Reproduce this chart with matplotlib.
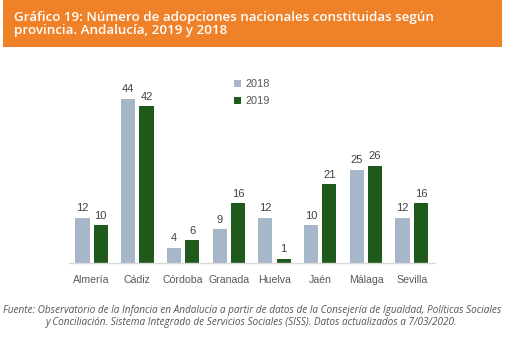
import matplotlib
matplotlib.use("Agg")
import matplotlib.pyplot as plt
from matplotlib.patches import Rectangle
import numpy as np

categories = ["Almería", "Cádiz", "Córdoba", "Granada", "Huelva", "Jaén", "Málaga", "Sevilla"]
values_2018 = [12, 44, 4, 9, 12, 10, 25, 12]
values_2019 = [10, 42, 6, 16, 1, 21, 26, 16]
series_names = ["2018", "2019"]

title = "Gráfico 19: Número de adopciones nacionales constituidas según\nprovincia. Andalucía, 2019 y 2018"
source = ("Fuente: Observatorio de la Infancia en Andalucía a partir de datos de la Consejería de Igualdad, Políticas Sociales\n"
          "y Conciliación. Sistema Integrado de Servicios Sociales (SISS). Datos actualizados a 7/03/2020.")

c18 = "#A7B7CA"
c19 = "#1F5A1C"
W, H = 505, 353
fam = ["Liberation Sans", "DejaVu Sans"]

fig = plt.figure(figsize=(W / 100, H / 100), dpi=100)
fig.patch.set_facecolor("white")

# Orange banner
fig.patches.append(Rectangle((3 / W, 1 - 47 / H), 499 / W, 47 / H, transform=fig.transFigure,
                             facecolor="#EF8129", edgecolor="none", zorder=0))
fig.text(14 / W, 1 - 24 / H, title, color="white", fontsize=9.6, fontweight="semibold",
         family=["Open Sans", "DejaVu Sans"], va="center", ha="left", linespacing=1.05)

# Axes
left, right = 68.7, 434.6
base, top = 262.5, 262.5 - 50 * 3.72
ax = fig.add_axes([left / W, 1 - base / H, (right - left) / W, (base - top) / H])
x = np.arange(len(categories))
bw = 0.31
off = 0.2
b1 = ax.bar(x - off, values_2018, bw, color=c18, label=series_names[0], zorder=2)
b2 = ax.bar(x + off, values_2019, bw, color=c19, label=series_names[1], zorder=2)
for bars, vals in ((b1, values_2018), (b2, values_2019)):
    for r, v in zip(bars, vals):
        ax.text(r.get_x() + r.get_width() / 2, v + 1.2, str(v), ha="center", va="bottom",
                fontsize=8, color="#404040", family=fam)
ax.set_xlim(-0.5, len(categories) - 0.5)
ax.set_ylim(0, 50)
ax.set_yticks([])
ax.set_xticks(x)
ax.set_xticklabels(categories, fontsize=7.6, color="#595959", family=fam)
ax.tick_params(axis="x", length=0, pad=9)
for s in ["top", "right", "left"]:
    ax.spines[s].set_visible(False)
ax.spines["bottom"].set_color("#D9D9D9")
ax.spines["bottom"].set_linewidth(1.0)

leg = ax.legend(loc="upper left", bbox_to_anchor=((230 - left) / (right - left), (base - 75) / (base - top)),
                frameon=False, handlelength=0.6, handleheight=0.6, handletextpad=0.4,
                labelspacing=0.6, borderaxespad=0, prop={"family": fam, "size": 7.9})
for t in leg.get_texts():
    t.set_color("#595959")

fig.text(252 / W, 1 - 316.5 / H, source, ha="center", va="center", fontsize=7.2, style="italic",
         color="#555555", family=["Open Sans", "DejaVu Sans"], linespacing=1.25)

fig.savefig("out.png", dpi=100)
